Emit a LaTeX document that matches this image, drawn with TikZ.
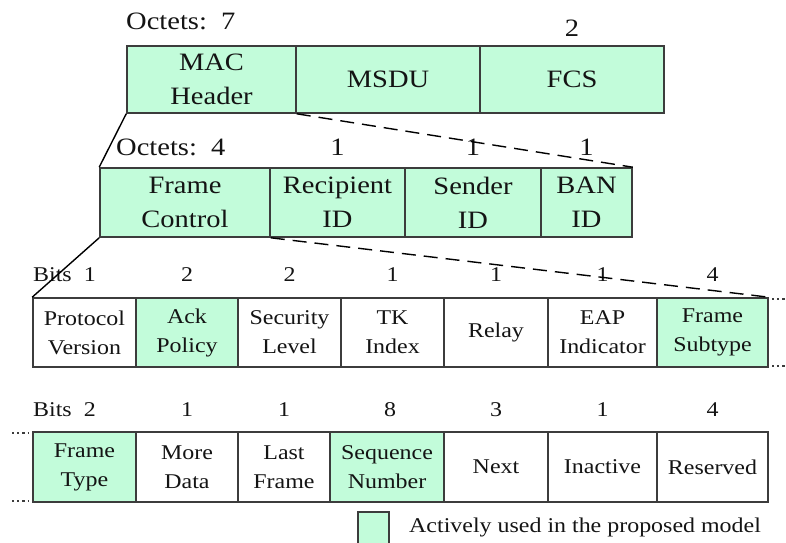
\documentclass[tikz,border=0pt]{standalone}
\usepackage{fontspec}
\setmainfont[FakeStretch=1.14]{Liberation Serif}
\definecolor{mint}{RGB}{194,252,218}
\definecolor{edge}{RGB}{60,60,60}
\definecolor{ink}{RGB}{20,20,20}
\tikzset{
  big/.style={font=\fontsize{25}{34}\selectfont, text=ink},
  small/.style={font=\fontsize{21}{29}\selectfont, text=ink},
  cell/.style={draw=edge, line width=1.6pt, inner sep=0pt, align=center, anchor=center},
  used/.style={cell, fill=mint},
  plain/.style={cell, fill=white},
  lbl/.style={inner sep=0pt},
  zoomline/.style={draw=black, line width=1.4pt},
  dashline/.style={zoomline, dash pattern=on 14pt off 8pt},
  dotline/.style={draw=edge, line width=2.2pt, dash pattern=on 2.2pt off 3pt}
}
\begin{document}
\begin{tikzpicture}[x=1pt,y=-1pt]
\useasboundingbox (0,0) rectangle (786,542);
% Row 1
\node[used, big, minimum width=169pt, minimum height=67pt] (mac) at (211.5,79.5) {MAC\\Header};
\node[used, big, minimum width=184pt, minimum height=67pt] (msdu) at (388,79.5) {MSDU};
\node[used, big, minimum width=184pt, minimum height=67pt] (fcs) at (572,79.5) {FCS};
\node[lbl, big, anchor=west] (o1) at (126,21) {Octets:\ \ 7};
\node[lbl, big] (o1b) at (572,28) {2};
% Row 2
\node[used, big, minimum width=170pt, minimum height=69pt] (fc) at (185,202.5) {Frame\\Control};
\node[used, big, minimum width=135pt, minimum height=69pt] (rid) at (337.5,202.5) {Recipient\\ID};
\node[used, big, minimum width=136pt, minimum height=69pt] (sid) at (473,202.5) {Sender\\ID};
\node[used, big, minimum width=91pt, minimum height=69pt] (ban) at (586.5,202.5) {BAN\\ID};
\node[lbl, big, anchor=west] (o2) at (116,147) {Octets:\ \ 4};
\node[lbl, big] (o2b) at (337.5,147) {1};
\node[lbl, big] (o2c) at (473,147) {1};
\node[lbl, big] (o2d) at (586.5,147) {1};
% Row 3
\node[plain, small, minimum width=103pt, minimum height=69pt] (pv) at (84.5,332.5) {Protocol\\Version};
\node[used, small, minimum width=102pt, minimum height=69pt] (ack) at (187,332.5) {Ack\\Policy};
\node[plain, small, minimum width=103pt, minimum height=69pt] (sec) at (289.5,332.5) {Security\\Level};
\node[plain, small, minimum width=103pt, minimum height=69pt] (tk) at (392.5,332.5) {TK\\Index};
\node[plain, small, minimum width=104pt, minimum height=69pt] (relay) at (496,332.5) {Relay};
\node[plain, small, minimum width=109pt, minimum height=69pt] (eap) at (602.5,332.5) {EAP\\Indicator};
\node[used, small, minimum width=111pt, minimum height=69pt] (fst) at (712.5,332.5) {Frame\\Subtype};
\node[lbl, small, anchor=west] (b3) at (33,275) {Bits\ \ 1};
\node[lbl, small] (b3b) at (187,275) {2};
\node[lbl, small] (b3c) at (289.5,275) {2};
\node[lbl, small] (b3d) at (392.5,275) {1};
\node[lbl, small] (b3e) at (496,275) {1};
\node[lbl, small] (b3f) at (602.5,275) {1};
\node[lbl, small] (b3g) at (712.5,275) {4};
% Row 4
\node[used, small, minimum width=103pt, minimum height=70pt] (ft) at (84.5,467) {Frame\\Type};
\node[plain, small, minimum width=102pt, minimum height=70pt] (md) at (187,467) {More\\Data};
\node[plain, small, minimum width=92pt, minimum height=70pt] (lf) at (284,467) {Last\\Frame};
\node[used, small, minimum width=114pt, minimum height=70pt] (sn) at (387,467) {Sequence\\Number};
\node[plain, small, minimum width=104pt, minimum height=70pt] (nx) at (496,467) {Next};
\node[plain, small, minimum width=109pt, minimum height=70pt] (ina) at (602.5,467) {Inactive};
\node[plain, small, minimum width=111pt, minimum height=70pt] (rs) at (712.5,467) {Reserved};
\node[lbl, small, anchor=west] (b4) at (33,410) {Bits\ \ 2};
\node[lbl, small] (b4b) at (187,410) {1};
\node[lbl, small] (b4c) at (284,410) {1};
\node[lbl, small] (b4d) at (390,410) {8};
\node[lbl, small] (b4e) at (496,410) {3};
\node[lbl, small] (b4f) at (602.5,410) {1};
\node[lbl, small] (b4g) at (712.5,410) {4};
% zoom connectors
\draw[zoomline] (mac.south west) -- (fc.north west);
\draw[dashline] (mac.south east) -- (ban.north east);
\draw[zoomline] (fc.south west) -- (pv.north west);
\draw[dashline] (fc.south east) -- (fst.north east);
% continuation dots
\coordinate (d1) at (772,299);
\coordinate (d2) at (772,366);
\coordinate (d3) at (12,433);
\coordinate (d4) at (12,501);
\draw[dotline] (d1) -- ++(14,0);
\draw[dotline] (d2) -- ++(14,0);
\draw[dotline] (d3) -- ++(16,0);
\draw[dotline] (d4) -- ++(16,0);
% legend
\node[used, minimum width=31pt, minimum height=34pt] (key) at (373.5,529) {};
\node[lbl, small, anchor=west] (keytxt) at (409,527) {Actively used in the proposed model};
\end{tikzpicture}
\end{document}
